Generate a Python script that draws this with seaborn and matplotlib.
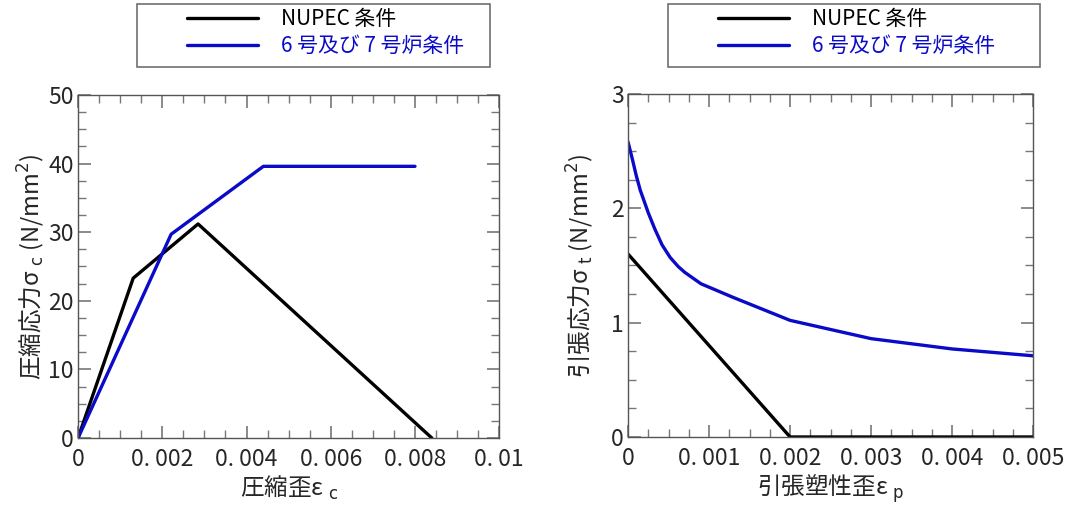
import matplotlib
matplotlib.use('Agg')
import matplotlib.pyplot as plt
import seaborn as sns
import pandas as pd
from matplotlib.patches import Rectangle
from matplotlib.ticker import MultipleLocator, FuncFormatter

# compression (left) - strain / stress
comp_strain_nupec = [0, 0.00131, 0.00285, 0.0084]
comp_stress_nupec = [0, 23.3, 31.2, 0]
comp_strain_kk = [0, 0.00221, 0.0044, 0.0080]
comp_stress_kk = [0, 29.7, 39.6, 39.6]

# tension (right) - plastic strain / stress
tens_strain_nupec = [0, 0.002, 0.005]
tens_stress_nupec = [1.6, 0, 0]
tens_strain_kk = [0, 0.00005, 0.0001, 0.00015, 0.00025, 0.00033, 0.00042, 0.00052,
                  0.00062, 0.0007, 0.0008, 0.0009, 0.0013, 0.002, 0.003, 0.004, 0.005]
tens_stress_kk = [2.58, 2.44, 2.29, 2.16, 1.96, 1.82, 1.68, 1.57,
                  1.49, 1.44, 1.39, 1.34, 1.22, 1.02, 0.86, 0.77, 0.71]

label_nupec = "NUPEC 条件"
label_kk = "6 号及び 7 号炉条件"

sns.set_theme(style='ticks')
plt.rcParams['font.family'] = ['Noto Sans CJK JP', 'DejaVu Sans']
plt.rcParams['axes.unicode_minus'] = False

black = '#000000'
blue = '#0A0AC8'
spine_col = '#555555'

fig = plt.figure(figsize=(10.69, 5.12), dpi=100)
ax1 = fig.add_axes([0.073, 0.1445, 0.394, 0.670])
ax2 = fig.add_axes([0.5875, 0.1465, 0.379, 0.670])


def fmt_dec(v, pos):
    if abs(v) < 1e-12:
        return "0"
    s = f"{v:.3f}".rstrip('0')
    return s.replace('.', '. ')


def style_axes(ax):
    for sp in ax.spines.values():
        sp.set_visible(True)
        sp.set_color(spine_col)
        sp.set_linewidth(1.0)
    ax.tick_params(which='both', direction='in', top=True, right=True,
                   color='#777777', labelsize=16.5)
    ax.tick_params(axis='x', pad=7)
    ax.tick_params(axis='y', pad=3)
    ax.tick_params(which='major', length=9, width=1.2)
    ax.tick_params(which='minor', length=5.5, width=1.0)
    ax.grid(False)


df_c1 = pd.DataFrame({'x': comp_strain_nupec, 'y': comp_stress_nupec})
df_c2 = pd.DataFrame({'x': comp_strain_kk, 'y': comp_stress_kk})
sns.lineplot(data=df_c1, x='x', y='y', ax=ax1, color=black, lw=2.4, label=label_nupec)
sns.lineplot(data=df_c2, x='x', y='y', ax=ax1, color=blue, lw=2.4, label=label_kk)

df_t1 = pd.DataFrame({'x': tens_strain_nupec, 'y': tens_stress_nupec})
df_t2 = pd.DataFrame({'x': tens_strain_kk, 'y': tens_stress_kk})
sns.lineplot(data=df_t1, x='x', y='y', ax=ax2, color=black, lw=2.4, label=label_nupec)
sns.lineplot(data=df_t2, x='x', y='y', ax=ax2, color=blue, lw=2.4, label=label_kk)

for ax in (ax1, ax2):
    if ax.get_legend() is not None:
        ax.get_legend().remove()
    style_axes(ax)

ax1.set_xlim(0, 0.01)
ax1.set_ylim(0, 50)
ax1.xaxis.set_major_locator(MultipleLocator(0.002))
ax1.xaxis.set_minor_locator(MultipleLocator(0.0005))
ax1.yaxis.set_major_locator(MultipleLocator(10))
ax1.yaxis.set_minor_locator(MultipleLocator(2.5))
ax1.xaxis.set_major_formatter(FuncFormatter(fmt_dec))
ax1.set_xlabel(r"圧縮歪ε $_{\mathrm{c}}$", fontsize=17, labelpad=2)
ax1.set_ylabel(r"圧縮応力σ $_{\mathrm{c}}$ (N/mm$^{2}$)", fontsize=17, labelpad=1)

ax2.set_xlim(0, 0.005)
ax2.set_ylim(0, 3)
ax2.xaxis.set_major_locator(MultipleLocator(0.001))
ax2.xaxis.set_minor_locator(MultipleLocator(0.00025))
ax2.yaxis.set_major_locator(MultipleLocator(1))
ax2.yaxis.set_minor_locator(MultipleLocator(0.25))
ax2.xaxis.set_major_formatter(FuncFormatter(fmt_dec))
ax2.set_xlabel(r"引張塑性歪ε $_{\mathrm{p}}$", fontsize=17, labelpad=2)
ax2.set_ylabel(r"引張応力σ $_{\mathrm{t}}$ (N/mm$^{2}$)", fontsize=17, labelpad=11)

# legend boxes above each panel
for (bx, bw), ax, lx in (((0.1282, 0.3302), ax1, 0.175), ((0.6249, 0.348), ax2, 0.6717)):
    fig.patches.append(Rectangle((bx, 0.8691), bw, 0.1230, transform=fig.transFigure,
                                 facecolor='white', edgecolor='#707070', lw=1.2))
    fig.legend(handles=ax.get_lines(), loc='upper left', bbox_to_anchor=(lx, 0.984),
               bbox_transform=fig.transFigure, frameon=False, borderpad=0,
               borderaxespad=0, handlelength=3.4, handletextpad=1.1,
               labelspacing=0.25, fontsize=15, labelcolor='linecolor')

fig.savefig('out.png', dpi=100, facecolor='white')
